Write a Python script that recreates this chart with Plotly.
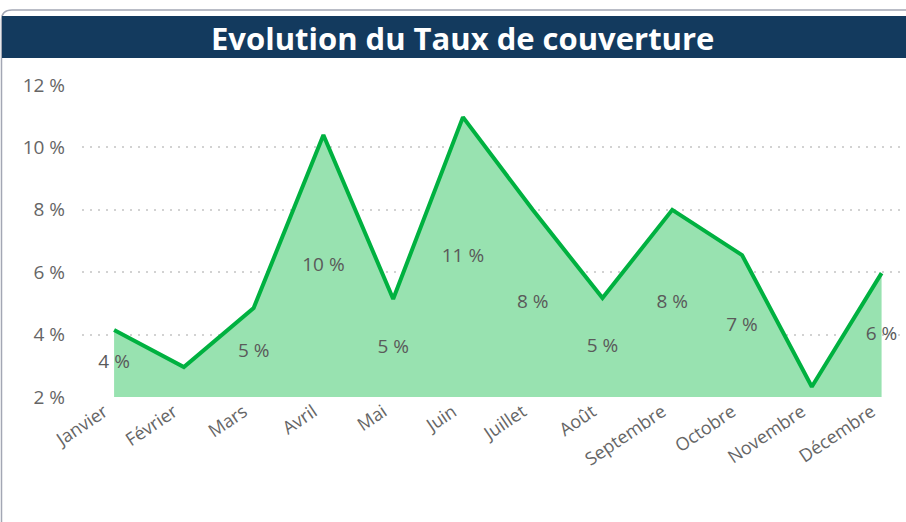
import plotly.graph_objects as go

W, H = 906, 522

mois = ["Janvier", "Février", "Mars", "Avril", "Mai", "Juin", "Juillet",
        "Août", "Septembre", "Octobre", "Novembre", "Décembre"]
taux = [4.15, 2.96, 4.85, 10.4, 5.14, 10.97, 8.0, 5.17, 8.0, 6.55, 2.33, 5.97]
etiquettes = ["4 %", "", "5 %", "10 %", "5 %", "11 %", "8 %", "5 %", "8 %", "7 %", "", "6 %"]
y_ticks = [2, 4, 6, 8, 10, 12]
y_tick_text = ["2 %", "4 %", "6 %", "8 %", "10 %", "12 %"]
titre = "Evolution du Taux de couverture"

Y_MIN, Y_MAX = 2, 12

# plot area in pixels
PL, PR, PT, PB = 82, 906, 85, 397

def px(x):
    return x / W

def py(y):
    return 1 - y / H

fig = go.Figure()

fig.add_trace(go.Scatter(
    x=mois, y=taux, mode="lines",
    line=dict(color="#00b140", width=4),
    fill="tozeroy", fillcolor="#98e2b0",
    hoverinfo="skip", showlegend=False,
))

label_y = [(v + Y_MIN) / 2 for v in taux]
fig.add_trace(go.Scatter(
    x=mois, y=label_y, mode="text", text=etiquettes,
    textfont=dict(family="Open Sans", size=19, color="#5a5a5a"),
    hoverinfo="skip", showlegend=False, cliponaxis=False,
))

fig.update_layout(
    width=W, height=H,
    margin=dict(l=0, r=0, t=0, b=0),
    paper_bgcolor="white", plot_bgcolor="white",
    xaxis=dict(
        domain=[px(PL), px(PR)],
        range=[-0.46, 11.35],
        tickangle=-34,
        tickfont=dict(family="Open Sans", size=18, color="#666666"),
        showgrid=False, zeroline=False, showline=False, ticks="",
        ticklabelshift=-10,
        automargin=False,
    ),
    yaxis=dict(
        domain=[py(PB), py(PT)],
        range=[Y_MIN, Y_MAX],
        tickvals=y_ticks, ticktext=y_tick_text,
        tickfont=dict(family="Open Sans", size=19, color="#666666"),
        showgrid=True, gridcolor="#d2d2d2", griddash="2px,6px", gridwidth=1.5,
        zeroline=False, showline=False, ticks="", ticklabelstandoff=16,
        automargin=False,
    ),
    shapes=[
        dict(type="path", xref="paper", yref="paper",
             path=f"M {px(1.5)},{py(522)} L {px(1.5)},{py(20)} Q {px(1.5)},{py(10)} {px(12)},{py(10)} L {px(906)},{py(10)}",
             line=dict(color="#a3a7b4", width=1.5), layer="above"),
        dict(type="rect", xref="paper", yref="paper",
             x0=px(2), x1=px(906), y0=py(58), y1=py(16),
             fillcolor="#133a5e", line=dict(width=0), layer="above"),
    ],
    annotations=[
        dict(text=f"<b>{titre}</b>", xref="paper", yref="paper",
             x=px(463), y=py(38), xanchor="center", yanchor="middle",
             showarrow=False,
             font=dict(family="Open Sans", size=31, color="white")),
    ],
)

fig.write_html("out.html",
               config={"displayModeBar": False},
               post_script="document.body.style.margin='0';document.body.style.overflow='hidden';")
